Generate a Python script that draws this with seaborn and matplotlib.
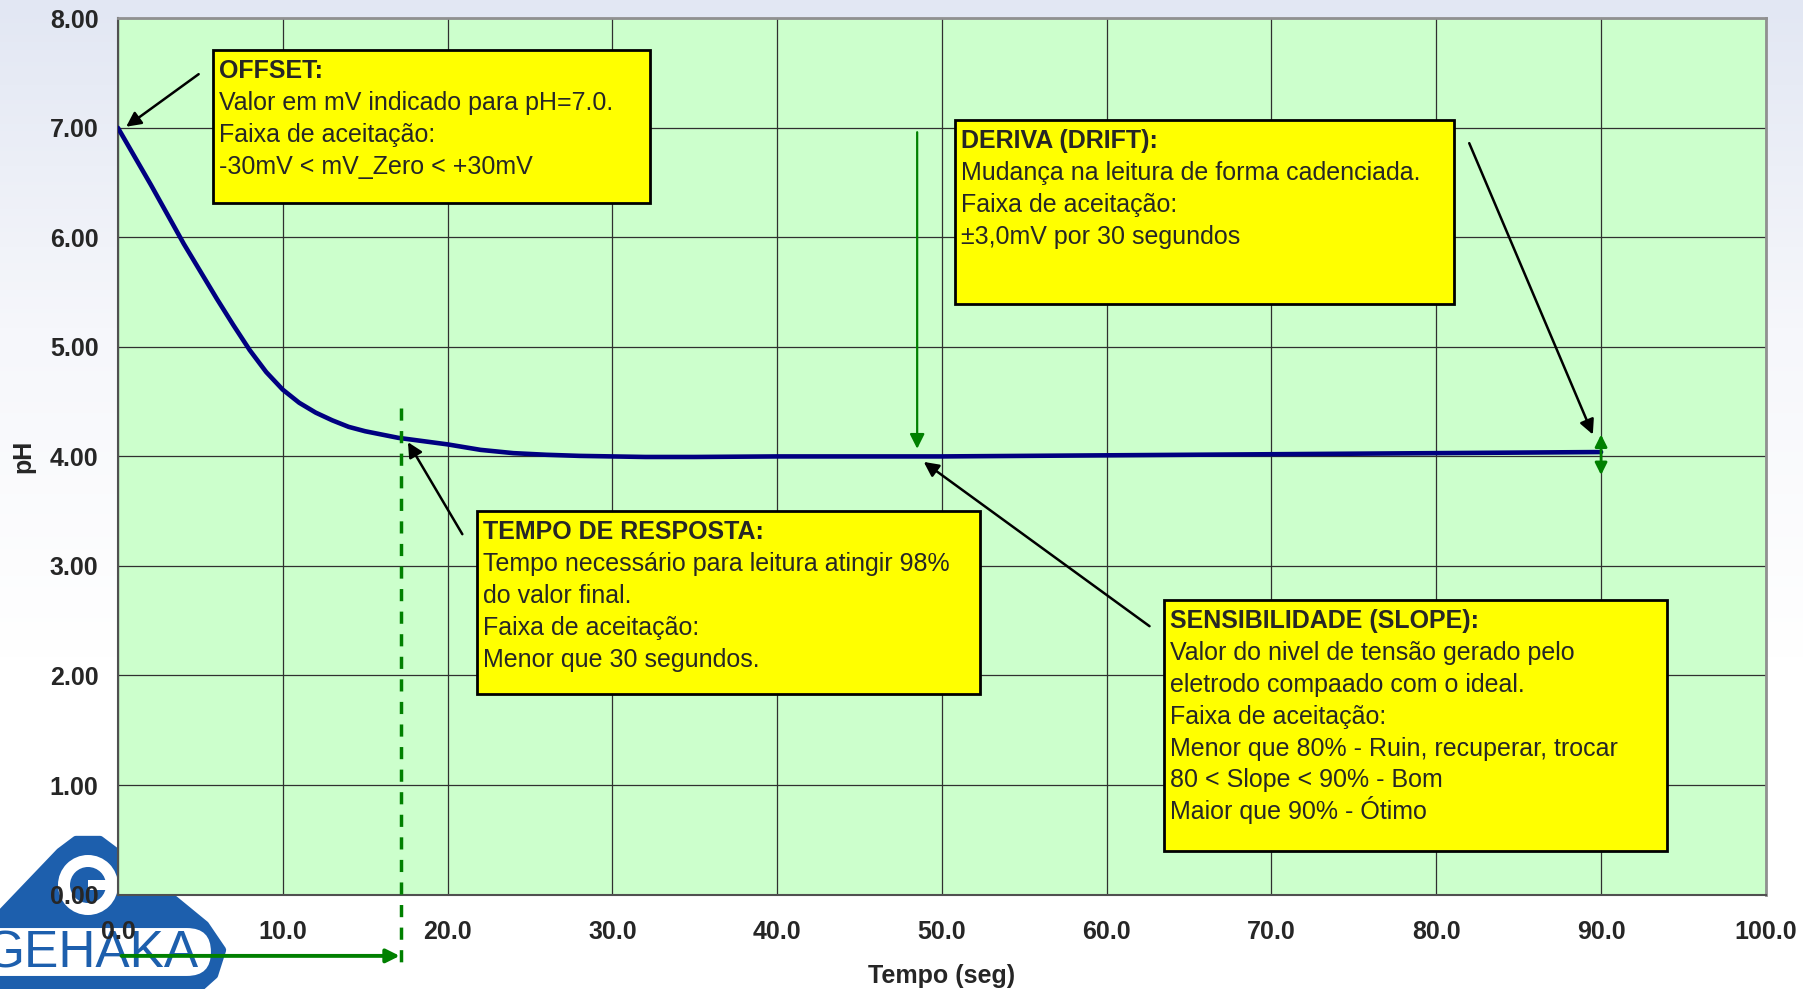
import numpy as np
import pandas as pd
import matplotlib.pyplot as plt
import seaborn as sns
from matplotlib.patches import Rectangle, Polygon, Circle, FancyBboxPatch
from matplotlib.colors import LinearSegmentedColormap

# curve
time_s = [0, 1, 2, 3, 4, 5, 6, 7, 8, 9, 10, 11, 12, 13, 14, 15, 16, 17, 18, 19,
          20, 22, 24, 26, 28, 30, 32, 35, 40, 45, 50, 55, 60, 65, 70, 75, 80, 85, 90]
ph = [7.00, 6.74, 6.48, 6.21, 5.94, 5.69, 5.44, 5.20, 4.97, 4.77, 4.61, 4.49, 4.40,
      4.33, 4.27, 4.23, 4.20, 4.17, 4.15, 4.13, 4.11, 4.06, 4.03, 4.015, 4.005, 4.00,
      3.995, 3.995, 4.00, 4.00, 4.00, 4.005, 4.01, 4.015, 4.02, 4.025, 4.03, 4.035, 4.04]

x_ticks = [0, 10, 20, 30, 40, 50, 60, 70, 80, 90, 100]
y_ticks = [0, 1, 2, 3, 4, 5, 6, 7, 8]

offset_text = ["OFFSET:",
               "Valor em mV indicado para pH=7.0.",
               "Faixa de aceitação:",
               "-30mV < mV_Zero < +30mV"]
drift_text = ["DERIVA (DRIFT):",
              "Mudança na leitura de forma cadenciada.",
              "Faixa de aceitação:",
              "±3,0mV por 30 segundos"]
resp_text = ["TEMPO DE RESPOSTA:",
             "Tempo necessário para leitura atingir 98%",
             "do valor final.",
             "Faixa de aceitação:",
             "Menor que 30 segundos."]
slope_text = ["SENSIBILIDADE (SLOPE):",
              "Valor do nivel de tensão gerado pelo",
              "eletrodo compaado com o ideal.",
              "Faixa de aceitação:",
              "Menor que 80% - Ruin, recuperar, trocar",
              "80 < Slope < 90% - Bom",
              "Maior que 90% - Ótimo"]

# box corners in data units: left, right, top, bottom
boxes = [
    ((5.8, 32.3, 7.71, 6.31), offset_text, ((4.9, 7.49), (0.5, 7.01))),
    ((50.8, 81.1, 7.07, 5.39), drift_text, ((82.0, 6.86), (89.5, 4.20))),
    ((21.8, 52.3, 3.50, 1.83), resp_text, ((20.9, 3.29), (17.6, 4.13))),
    ((63.5, 94.0, 2.69, 0.40), slope_text, ((62.6, 2.45), (48.9, 3.95))),
]

green = "#008000"
blue_logo = "#1d5fad"

sns.set_style("white")
plt.rcParams['font.family'] = ['Liberation Sans', 'DejaVu Sans']

fig = plt.figure(figsize=(18.03, 9.89), dpi=100)

# soft background
bg = fig.add_axes([0, 0, 1, 1], zorder=-3)
grad = np.linspace(0, 1, 256).reshape(-1, 1)
cmap = LinearSegmentedColormap.from_list("bg", ["#e2e7f3", "#f6f7fb", "#ffffff", "#ffffff"])
bg.imshow(grad, aspect="auto", cmap=cmap, extent=[0, 1, 0, 1], origin="upper")
bg.axis("off")

# logo in pixel coordinates
lg = fig.add_axes([0, 0, 230 / 1803, 160 / 989], zorder=-1)
lg.set_xlim(0, 230)
lg.set_ylim(989, 829)
lg.axis("off")
lg.add_patch(Polygon([(-5, 920), (60, 852), (76, 840), (100, 840), (116, 852),
                      (205, 925), (222, 950), (214, 975), (195, 992), (-5, 992)],
                     closed=True, fc=blue_logo, ec=blue_logo, lw=6, joinstyle="round"))
lg.add_patch(Circle((88, 885), 30, fc="white", ec="none"))
lg.add_patch(Circle((88, 885), 18, fc=blue_logo, ec="none"))
lg.add_patch(Rectangle((88, 880), 32, 10, fc="white", ec="none"))
lg.add_patch(FancyBboxPatch((-40, 927), 252, 50, boxstyle="round,pad=0,rounding_size=25",
                            fc="white", ec=blue_logo, lw=1.5))
lg.text(-16, 954, "GEHAKA", fontsize=37, color=blue_logo, ha="left", va="center")

ax = fig.add_axes([0.0654, 0.0955, 0.914, 0.886], zorder=1)
ax.set_facecolor("#ccffcc")

df = pd.DataFrame({"tempo": time_s, "ph": ph})
sns.lineplot(data=df, x="tempo", y="ph", color="#000080", lw=3.3, ax=ax, zorder=3)

ax.set_xlim(0, 100)
ax.set_ylim(0, 8)
ax.set_xticks(x_ticks)
ax.set_yticks(y_ticks)
ax.set_xticklabels([f"{v:.1f}" for v in x_ticks], fontsize=18, fontweight="bold")
ax.set_yticklabels([f"{v:.2f}" for v in y_ticks], fontsize=18, fontweight="bold")
ax.tick_params(axis="x", direction="out", length=6, width=1, color="#505050", pad=12)
ax.tick_params(axis="y", direction="out", length=6, width=1, color="#505050", pad=8)
ax.grid(True, color="#303030", lw=0.9)
ax.set_axisbelow(True)
for side in ["left", "bottom"]:
    ax.spines[side].set_color("#505050")
    ax.spines[side].set_linewidth(1.5)
for side in ["top", "right"]:
    ax.spines[side].set_color("#909090")
    ax.spines[side].set_linewidth(2)

ax.set_xlabel("Tempo (seg)", fontsize=18, fontweight="bold", labelpad=15)
ax.set_ylabel("pH", fontsize=18, fontweight="bold", labelpad=10)

# yellow note boxes
for (l, r, t, b), lines, (start, end) in boxes:
    ax.add_patch(Rectangle((l, b), r - l, t - b, fc="#ffff00", ec="black", lw=2, zorder=4))
    for i, line in enumerate(lines):
        ax.annotate(line, xy=(l, t), xytext=(6, -28 - i * 31.9), textcoords="offset pixels",
                    fontsize=18, fontweight="bold" if i == 0 else "normal",
                    ha="left", va="baseline", zorder=5, annotation_clip=False)
    ax.annotate("", xy=end, xytext=start, zorder=6, annotation_clip=False,
                arrowprops=dict(arrowstyle="-|>", color="black", lw=1.8,
                                mutation_scale=22, shrinkA=0, shrinkB=0))

# green markers
ax.annotate("", xy=(48.5, 4.07), xytext=(48.5, 6.96), zorder=6,
            arrowprops=dict(arrowstyle="-|>", color=green, lw=1.6, mutation_scale=22,
                            shrinkA=0, shrinkB=0))
ax.annotate("", xy=(90, 4.20), xytext=(90, 3.83), zorder=6,
            arrowprops=dict(arrowstyle="<|-|>", color=green, lw=2, mutation_scale=18,
                            shrinkA=0, shrinkB=0))
ax.plot([17.2, 17.2], [4.44, -0.65], color=green, lw=2.5, ls=(0, (3.5, 3)),
        clip_on=False, zorder=6)
ax.annotate("", xy=(17.1, -0.56), xytext=(0.22, -0.56), zorder=6, annotation_clip=False,
            arrowprops=dict(arrowstyle="-|>", color=green, lw=2.8, mutation_scale=20,
                            shrinkA=0, shrinkB=0))

fig.savefig("out.png", dpi=100)
